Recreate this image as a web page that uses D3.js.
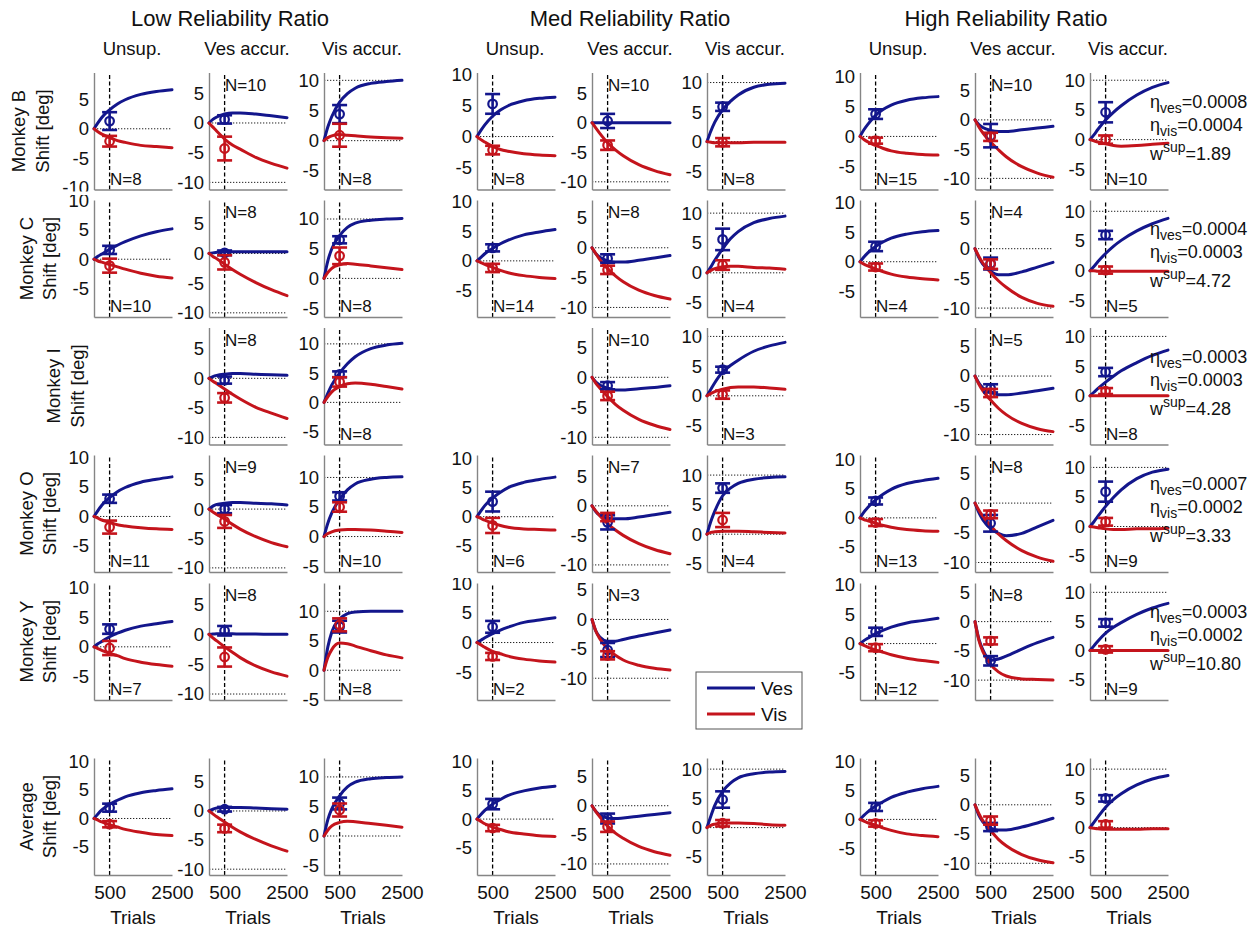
<!DOCTYPE html>
<html><head><meta charset="utf-8">
<script src="https://cdn.jsdelivr.net/npm/d3@7"></script>
<style>
body{margin:0;background:#fff}
svg text{font-family:"Liberation Sans",Arial,sans-serif;fill:#111}
</style></head>
<body><svg id="c" width="1252" height="928"></svg>
<script>
// ---------------- DATA ----------------
const groupTitles = ["Low Reliability Ratio","Med Reliability Ratio","High Reliability Ratio"];
const conditionTitles = ["Unsup.","Ves accur.","Vis accur."];
const rowLabels = ["Monkey B","Monkey C","Monkey I","Monkey O","Monkey Y","Average"];
const yAxisTitle = "Shift [deg]";
const xAxisTitle = "Trials";
const seriesNames = ["Ves","Vis"];
const trialSamples = [0,125,250,500,750,1000,1500,2000,2500];
const xTickValues = [500,2500];
const yTickValues = [-10,-5,0,5,10];
const probeTrial = 500;

// N per panel (rows x 9 panels: Low U/Ves/Vis, Med U/Ves/Vis, High U/Ves/Vis)
const nCounts = [
  [8,10,8, 8,10,8, 15,10,10],
  [10,8,8, 14,8,4, 4,4,5],
  [null,8,8, null,10,3, null,5,8],
  [11,9,10, 6,7,4, 13,8,9],
  [7,8,8, 2,3,null, 12,8,9],
  [null,null,null, null,null,null, null,null,null]
];
// y limits per panel (null = panel absent)
const yLimits = [
  [[-10.25,9.5],[-11.2,8.5],[-8.1,11.3],[-8.6,10.4],[-11.3,8.5],[-8.1,11.7],[-8.8,10.6],[-11.9,8.1],[-8.4,11.3]],
  [[-9.9,10.15],[-10.7,9.0],[-6.5,13.2],[-9.5,10.3],[-11.6,8.0],[-7.4,12.2],[-9.4,10.5],[-11.5,8.2],[-7.8,11.9]],
  [null,[-11.2,8.6],[-7.2,12.8],null,[-11.2,8.3],[-8.2,11.5],null,[-11.7,8.3],[-8.2,11.5]],
  [[-9.4,10.4],[-10.7,9.2],[-6.0,13.8],[-9.5,10.6],[-11.2,8.6],[-6.4,13.4],[-9.3,10.8],[-11.6,8.1],[-7.7,12.1]],
  [[-9.0,10.8],[-11.0,8.6],[-5.05,14.8],[-9.7,10.05],[-13.7,6.2],null,[-9.6,10.3],[-13.4,6.6],[-8.5,11.6]],
  [[-9.9,10.6],[-11.0,9.1],[-6.6,13.2],[-9.7,10.6],[-11.9,8.2],[-8.1,11.9],[-9.6,10.6],[-12.0,8.0],[-8.1,11.9]]
];
// model curves sampled at trialSamples
const vesCurves = [
  [[0,1.0,1.9,3.2,4.2,4.9,5.8,6.3,6.6],[0,0.6,1.0,1.5,1.7,1.7,1.5,1.2,0.9],[0,2.3,4.0,6.4,7.8,8.7,9.5,9.8,10.0],
   [0,1.0,1.9,3.3,4.3,5.0,5.8,6.2,6.4],[0,0,0,0,0,0,0,0,0],[0,1.8,3.3,5.4,6.8,7.9,9.2,9.7,9.9],
   [0,1.1,2.0,3.5,4.5,5.2,6.0,6.4,6.6],[0,-0.8,-1.3,-1.8,-2.0,-2.0,-1.7,-1.4,-1.1],[0,0.8,1.7,3.3,4.6,5.7,7.5,8.8,9.6]],
  [[0,0.5,0.9,1.7,2.4,3.0,4.0,4.7,5.2],[0,0.1,0.2,0.3,0.3,0.3,0.3,0.3,0.3],[0,3.0,5.0,7.2,8.6,9.3,9.8,10.0,10.1],
   [0,0.6,1.2,2.1,2.9,3.5,4.4,4.9,5.3],[0,-1.0,-1.6,-2.2,-2.4,-2.4,-2.1,-1.7,-1.3],[0,1.0,2.1,4.0,5.7,6.9,8.4,9.1,9.5],
   [0,0.8,1.5,2.6,3.4,4.0,4.7,5.1,5.3],[0,-1.5,-2.6,-3.8,-4.4,-4.4,-3.9,-3.1,-2.3],[0,0.7,1.5,2.9,4.1,5.1,6.7,7.9,8.8]],
  [null,[0,0.3,0.5,0.7,0.8,0.8,0.7,0.6,0.5],[0,1.6,3.0,5.0,6.6,7.8,9.2,9.8,10.1],
   null,[0,-0.8,-1.3,-1.8,-2.1,-2.1,-1.9,-1.7,-1.4],[0,1.1,2.2,4.0,5.1,6.0,7.5,8.4,9.0],
   null,[0,-1.2,-2.0,-2.8,-3.2,-3.2,-2.9,-2.5,-2.1],[0,0.6,1.2,2.3,3.3,4.2,5.6,6.8,7.7]],
  [[0,1.0,1.9,3.2,4.2,4.9,5.8,6.3,6.7],[0,0.5,0.8,1.0,1.1,1.1,1.0,0.9,0.7],[0,2.3,4.0,6.3,7.9,8.9,9.7,10.0,10.1],
   [0,1.0,1.9,3.2,4.2,5.0,5.9,6.4,6.8],[0,-1.0,-1.6,-2.1,-2.2,-2.2,-1.9,-1.5,-1.1],[0,2.2,3.9,6.5,7.8,8.6,9.3,9.6,9.7],
   [0,1.0,1.8,3.1,4.1,4.9,5.9,6.4,6.8],[0,-1.6,-2.8,-4.3,-5.1,-5.5,-5.1,-4.0,-2.9],[0,0.8,1.7,3.4,4.9,6.2,8.1,9.2,9.7]],
  [[0,0.5,0.9,1.7,2.3,2.8,3.5,3.9,4.3],[0,0.05,0.1,0.1,0.1,0.05,0.05,0,0],[0,4.0,6.5,8.7,9.6,9.9,10.0,10.0,10.0],
   [0,0.4,0.8,1.5,2.1,2.6,3.4,3.8,4.2],[0,-2.0,-3.0,-3.7,-3.7,-3.4,-2.8,-2.3,-1.8],null,
   [0,0.5,0.9,1.7,2.3,2.8,3.5,3.9,4.3],[0,-3.0,-4.8,-6.6,-6.4,-5.9,-4.7,-3.6,-2.7],[0,0.8,1.6,3.0,4.0,4.8,6.2,7.3,8.1]],
  [[0,0.8,1.5,2.5,3.2,3.8,4.5,4.9,5.2],[0,0.3,0.5,0.6,0.6,0.6,0.5,0.4,0.3],[0,2.8,4.6,6.8,8.3,9.1,9.7,9.9,10.0],
   [0,0.8,1.5,2.6,3.4,4.1,4.9,5.4,5.7],[0,-1.0,-1.6,-2.1,-2.2,-2.1,-1.8,-1.5,-1.2],[0,2.0,3.8,6.2,7.6,8.5,9.2,9.5,9.6],
   [0,0.7,1.3,2.3,3.1,3.8,4.7,5.3,5.7],[0,-1.8,-2.9,-4.0,-4.3,-4.3,-3.8,-3.1,-2.3],[0,0.9,1.8,3.5,4.8,5.8,7.3,8.3,8.9]]
];
const visCurves = [
  [[0,-0.5,-0.9,-1.5,-2.0,-2.3,-2.8,-3.0,-3.2],[0,-0.7,-1.4,-2.7,-3.7,-4.4,-5.8,-6.8,-7.6],[0,0.5,0.8,1.0,0.9,0.8,0.6,0.5,0.4],
   [0,-0.5,-0.9,-1.6,-2.1,-2.4,-2.8,-3.0,-3.1],[0,-0.9,-1.8,-3.4,-4.6,-5.6,-7.1,-8.1,-8.8],[0,-0.1,-0.2,-0.2,-0.2,-0.2,-0.1,-0.1,-0.1],
   [0,-0.5,-0.9,-1.5,-2.0,-2.4,-2.8,-3.0,-3.1],[0,-1.2,-2.2,-3.8,-5.1,-6.3,-8.0,-9.1,-9.8],[0,-0.2,-0.4,-0.7,-1.0,-1.1,-1.0,-0.8,-0.6]],
  [[0,-0.3,-0.5,-0.9,-1.3,-1.7,-2.4,-2.9,-3.2],[0,-0.5,-0.9,-1.8,-2.7,-3.5,-4.9,-6.1,-7.1],[0,1.0,1.7,2.3,2.5,2.4,2.1,1.8,1.5],
   [0,-0.3,-0.6,-1.1,-1.6,-2.0,-2.5,-2.8,-3.0],[0,-1.0,-2.0,-3.5,-4.7,-5.7,-7.1,-8.0,-8.6],[0,0.4,0.7,1.0,1.1,1.1,0.9,0.8,0.6],
   [0,-0.4,-0.7,-1.2,-1.7,-2.1,-2.6,-2.9,-3.1],[0,-1.3,-2.4,-4.0,-5.4,-6.5,-8.2,-9.2,-9.7],[0,0,-0.1,-0.1,-0.1,-0.1,-0.1,-0.1,-0.1]],
  [null,[0,-0.5,-0.9,-1.8,-2.7,-3.5,-4.9,-5.9,-6.8],[0,1.0,1.8,2.7,3.2,3.3,3.1,2.7,2.3],
   null,[0,-1.0,-1.8,-3.2,-4.5,-5.5,-7.0,-8.0,-8.7],[0,0.4,0.7,1.1,1.4,1.5,1.5,1.3,1.1],
   null,[0,-1.4,-2.5,-4.1,-5.5,-6.6,-8.1,-9.0,-9.5],[0,0,0,0,0,0,0,0,0]],
  [[0,-0.3,-0.6,-1.0,-1.4,-1.6,-1.9,-2.1,-2.2],[0,-0.5,-0.9,-1.7,-2.6,-3.4,-4.7,-5.7,-6.4],[0,0.5,0.8,1.1,1.2,1.2,1.1,0.9,0.7],
   [0,-0.3,-0.6,-1.1,-1.5,-1.8,-2.1,-2.2,-2.3],[0,-0.9,-1.7,-3.0,-4.1,-5.0,-6.4,-7.4,-8.1],[0,0.3,0.4,0.5,0.5,0.5,0.4,0.3,0.2],
   [0,-0.3,-0.5,-0.9,-1.3,-1.6,-2.0,-2.2,-2.3],[0,-1.2,-2.2,-3.8,-5.2,-6.3,-8.0,-9.1,-9.8],[0,-0.1,-0.2,-0.4,-0.5,-0.5,-0.4,-0.4,-0.3]],
  [[0,-0.3,-0.6,-1.1,-1.5,-2.0,-2.6,-3.0,-3.3],[0,-0.6,-1.1,-2.1,-3.0,-3.9,-5.3,-6.3,-7.0],[0,2.2,3.5,4.6,4.5,4.1,3.3,2.6,2.1],
   [0,-0.4,-0.8,-1.5,-1.9,-2.3,-2.8,-3.1,-3.3],[0,-2.0,-3.3,-5.0,-6.1,-6.9,-7.8,-8.3,-8.6],null,
   [0,-0.3,-0.6,-1.1,-1.5,-1.9,-2.5,-2.9,-3.2],[0,-3.2,-5.1,-7.3,-8.6,-9.3,-9.8,-9.9,-10.0],[0,0,0,0,0,0,0,0,0]],
  [[0,-0.3,-0.6,-1.1,-1.5,-1.9,-2.4,-2.8,-3.0],[0,-0.5,-1.0,-1.9,-2.8,-3.6,-4.9,-6.0,-6.9],[0,1.0,1.7,2.3,2.5,2.4,2.1,1.8,1.5],
   [0,-0.4,-0.8,-1.4,-1.8,-2.2,-2.6,-2.9,-3.0],[0,-1.0,-1.9,-3.5,-4.7,-5.6,-7.0,-7.9,-8.5],[0,0.4,0.6,0.8,0.8,0.8,0.7,0.5,0.4],
   [0,-0.3,-0.6,-1.0,-1.5,-1.9,-2.5,-2.8,-3.0],[0,-1.5,-2.7,-4.4,-5.9,-7.0,-8.5,-9.4,-9.9],[0,-0.1,-0.2,-0.3,-0.3,-0.3,-0.3,-0.2,-0.2]]
];
// measured shift at trial 500: [mean, error]
const vesMeasured = [
  [[1.3,1.5],[0.6,0.7],[4.4,1.5],[5.3,1.6],[0.3,1.2],[5.9,0.7],[3.7,0.8],[-2.7,2.0],[4.6,1.7]],
  [[1.6,0.7],[0.1,0.4],[6.5,0.6],[2.2,0.6],[-1.8,0.7],[5.6,1.8],[2.6,0.8],[-2.5,1.0],[6.0,0.7]],
  [null,[-0.3,0.6],[4.8,0.5],null,[-1.4,0.6],[4.4,0.5],null,[-2.1,0.7],[4.0,0.7]],
  [[3.0,0.7],[0,0.7],[6.8,0.7],[2.6,1.7],[-2.8,1.2],[7.8,0.8],[2.9,0.6],[-3.4,1.4],[5.9,1.7]],
  [[3.0,0.8],[0.6,0.8],[7.4,1.0],[2.65,1.0],[-5.2,1.2],null,[2.0,0.7],[-6.7,0.8],[4.75,0.65]],
  [[1.9,0.7],[0.3,0.4],[5.5,1.0],[2.6,0.9],[-2.2,0.85],[4.8,1.4],[2.15,0.7],[-3.8,0.7],[5.0,0.55]]
];
const visMeasured = [
  [[-2.1,0.9],[-4.3,2.0],[0.9,1.9],[-2.2,0.7],[-3.8,0.8],[-0.1,0.7],[-0.7,0.5],[-2.9,0.7],[0,0.7]],
  [[-1.1,1.2],[-1.5,1.2],[3.8,1.4],[-1.2,0.7],[-3.7,0.7],[1.3,0.8],[-0.9,0.6],[-2.6,0.8],[0.1,0.6]],
  [null,[-3.3,0.8],[3.5,0.8],null,[-3.1,0.7],[0.2,0.7],null,[-2.9,0.7],[0.8,0.5]],
  [[-1.8,1.1],[-2.1,1.1],[5.0,0.8],[-1.5,1.3],[-1.9,0.7],[2.4,1.2],[-0.8,0.6],[-1.9,0.65],[0.8,0.65]],
  [[-0.2,1.2],[-3.8,1.6],[7.7,1.1],[-2.35,0.6],[-6.1,0.7],null,[-0.7,0.6],[-3.3,0.6],[0.2,0.55]],
  [[-1.0,0.55],[-3.0,0.65],[4.4,1.1],[-1.55,0.55],[-3.6,0.9],[0.75,0.55],[-0.7,0.55],[-2.7,0.7],[0.55,0.55]]
];
// fitted parameters (High reliability, Vis accur. panels, rows 1-5)
const etaVes = ["0.0008","0.0004","0.0003","0.0007","0.0003"];
const etaVis = ["0.0004","0.0003","0.0003","0.0002","0.0002"];
const wSup = ["1.89","4.72","4.28","3.33","10.80"];

// ---------------- LAYOUT ----------------
const colLeft = [94,209,324,477,592,707,860,975,1090];
const plotW = 78, plotH = 117;
const rowTop = [72.5,200,327.5,455,583,758];
const BLUE = "#13168c", RED = "#c4141c", AXIS = "#858585";
const svg = d3.select("#c");
const defs = svg.append("defs");

// Titles
const groupTitleX = [230,630,1006];
groupTitles.forEach((t,i)=>{
  svg.append("text").attr("x",groupTitleX[i]).attr("y",26).attr("text-anchor","middle")
    .attr("font-size",22).text(t);
});
colLeft.forEach((l,ci)=>{
  svg.append("text").attr("x",l+plotW/2-1).attr("y",55).attr("text-anchor","middle")
    .attr("font-size",18.5).text(conditionTitles[ci%3]);
});

// Row labels
const rowLabelX = [[18.5,42],[26,49],[53,77],[26,49],[26,49],[26,49]];
rowLabels.forEach((lab,ri)=>{
  const cy = rowTop[ri]+plotH/2;
  [lab,yAxisTitle].forEach((t,k)=>{
    svg.append("text").attr("transform",`translate(${rowLabelX[ri][k]},${cy}) rotate(-90)`)
      .attr("text-anchor","middle").attr("dominant-baseline","central")
      .attr("font-size",18.5).text(t);
  });
});

const line = d3.line().curve(d3.curveMonotoneX);

for(let ri=0; ri<rowLabels.length; ri++){
  // clip band for y tick labels (edge labels of stacked rows are cut, as in the figure)
  const clipTop = (ri>=1 && ri<=4) ? rowTop[ri]-5 : 0;
  const clipBot = (ri<=3) ? rowTop[ri]+plotH+2 : 928;
  const clipId = "clip"+ri;
  defs.append("clipPath").attr("id",clipId).attr("clipPathUnits","userSpaceOnUse").append("rect")
    .attr("x",-2000).attr("y",clipTop).attr("width",5000).attr("height",clipBot-clipTop);

  for(let ci=0; ci<9; ci++){
    const lim = yLimits[ri][ci];
    if(!lim) continue;
    const left = colLeft[ci], top = rowTop[ri];
    const x = d3.scaleLinear().domain([0,2500]).range([left,left+plotW]);
    const y = d3.scaleLinear().domain(lim).range([top+plotH,top]);
    const g = svg.append("g");
    const cond = ci%3;

    // reference lines
    const refs = [0];
    if(cond===1) refs.push(-10);
    if(cond===2) refs.push(10);
    refs.forEach(v=>{
      g.append("line").attr("x1",x(0)).attr("x2",x(2500)).attr("y1",y(v)).attr("y2",y(v))
        .attr("stroke","#222").attr("stroke-width",1).attr("stroke-dasharray","1.3,1.7");
    });
    g.append("line").attr("x1",x(probeTrial)).attr("x2",x(probeTrial)).attr("y1",y(lim[0])).attr("y2",y(lim[1]))
      .attr("stroke","#000").attr("stroke-width",1.3).attr("stroke-dasharray","4,2.5");

    // axes (wrapper holds the clip so the translate does not shift it)
    const ya = d3.axisLeft(y).tickValues(yTickValues.filter(v=>v>=lim[0]&&v<=lim[1]))
      .tickSize(0).tickSizeOuter(0).tickPadding(5).tickFormat(d=>d<0?"-"+Math.abs(d):String(d));
    const ywrap = g.append("g").attr("clip-path",`url(#${clipId})`);
    const yg = ywrap.append("g").attr("transform",`translate(${left},0)`).call(ya);
    yg.select(".domain").attr("stroke",AXIS).attr("stroke-width",1.4);
    yg.selectAll("text").attr("font-size",18.5).attr("fill","#111")
      .attr("font-family",'"Liberation Sans",Arial,sans-serif');
    const xa = d3.axisBottom(x).tickValues(ri===5?xTickValues:[]).tickSize(0).tickSizeOuter(0)
      .tickPadding(11).tickFormat(d3.format("d"));
    const xg = g.append("g").attr("transform",`translate(0,${top+plotH})`).call(xa);
    xg.select(".domain").attr("stroke",AXIS).attr("stroke-width",1.4);
    xg.selectAll("text").attr("font-size",19).attr("fill","#111")
      .attr("font-family",'"Liberation Sans",Arial,sans-serif');
    if(ri===5){
      g.append("text").attr("x",left+plotW/2).attr("y",924).attr("text-anchor","middle")
        .attr("font-size",19).text(xAxisTitle);
    }

    // curves
    [[vesCurves,BLUE],[visCurves,RED]].forEach(([src,col])=>{
      const vals = src[ri][ci];
      g.append("path").attr("d",line(trialSamples.map((t,i)=>[x(t),y(vals[i])])))
        .attr("fill","none").attr("stroke",col).attr("stroke-width",3).attr("stroke-linecap","round");
    });

    // measured points with error bars
    [[vesMeasured,BLUE],[visMeasured,RED]].forEach(([src,col])=>{
      const [m,e] = src[ri][ci];
      const px = x(probeTrial), cap = 7.5;
      const eg = g.append("g").attr("stroke",col).attr("stroke-width",2.6).attr("fill","none");
      eg.append("line").attr("x1",px).attr("x2",px).attr("y1",y(m-e)).attr("y2",y(m+e));
      eg.append("line").attr("x1",px-cap).attr("x2",px+cap).attr("y1",y(m-e)).attr("y2",y(m-e));
      eg.append("line").attr("x1",px-cap).attr("x2",px+cap).attr("y1",y(m+e)).attr("y2",y(m+e));
      eg.append("circle").attr("cx",px).attr("cy",y(m)).attr("r",4.3).attr("stroke-width",2.2);
    });

    // N label
    const n = nCounts[ri][ci];
    if(n!==null){
      const ny = cond===1 ? top+18 : top+plotH-5;
      g.append("text").attr("x",x(probeTrial)+0.5).attr("y",ny).attr("font-size",17).text("N="+n);
    }

    // fitted parameters
    if(ci===8 && ri<5){
      const tx = 1150;
      const t1 = g.append("text").attr("x",tx).attr("y",top+35).attr("font-size",18);
      t1.append("tspan").text("\u03B7");
      t1.append("tspan").attr("font-size",14).attr("dy",5).text("ves");
      t1.append("tspan").attr("dy",-5).text("="+etaVes[ri]);
      const t2 = g.append("text").attr("x",tx).attr("y",top+58).attr("font-size",18);
      t2.append("tspan").text("\u03B7");
      t2.append("tspan").attr("font-size",14).attr("dy",5).text("vis");
      t2.append("tspan").attr("dy",-5).text("="+etaVis[ri]);
      const t3 = g.append("text").attr("x",tx).attr("y",top+87).attr("font-size",18);
      t3.append("tspan").text("w");
      t3.append("tspan").attr("font-size",14).attr("dy",-8).text("sup");
      t3.append("tspan").attr("dy",8).text("="+wSup[ri]);
    }
  }
}

// Legend
const lg = svg.append("g");
lg.append("rect").attr("x",696).attr("y",672).attr("width",106).attr("height",57)
  .attr("fill","#fff").attr("stroke","#555").attr("stroke-width",1);
[[BLUE,688],[RED,714]].forEach(([col,yy],i)=>{
  lg.append("line").attr("x1",707).attr("x2",755).attr("y1",yy).attr("y2",yy)
    .attr("stroke",col).attr("stroke-width",3);
  lg.append("text").attr("x",761).attr("y",yy+7).attr("font-size",19).text(seriesNames[i]);
});
</script></body></html>
